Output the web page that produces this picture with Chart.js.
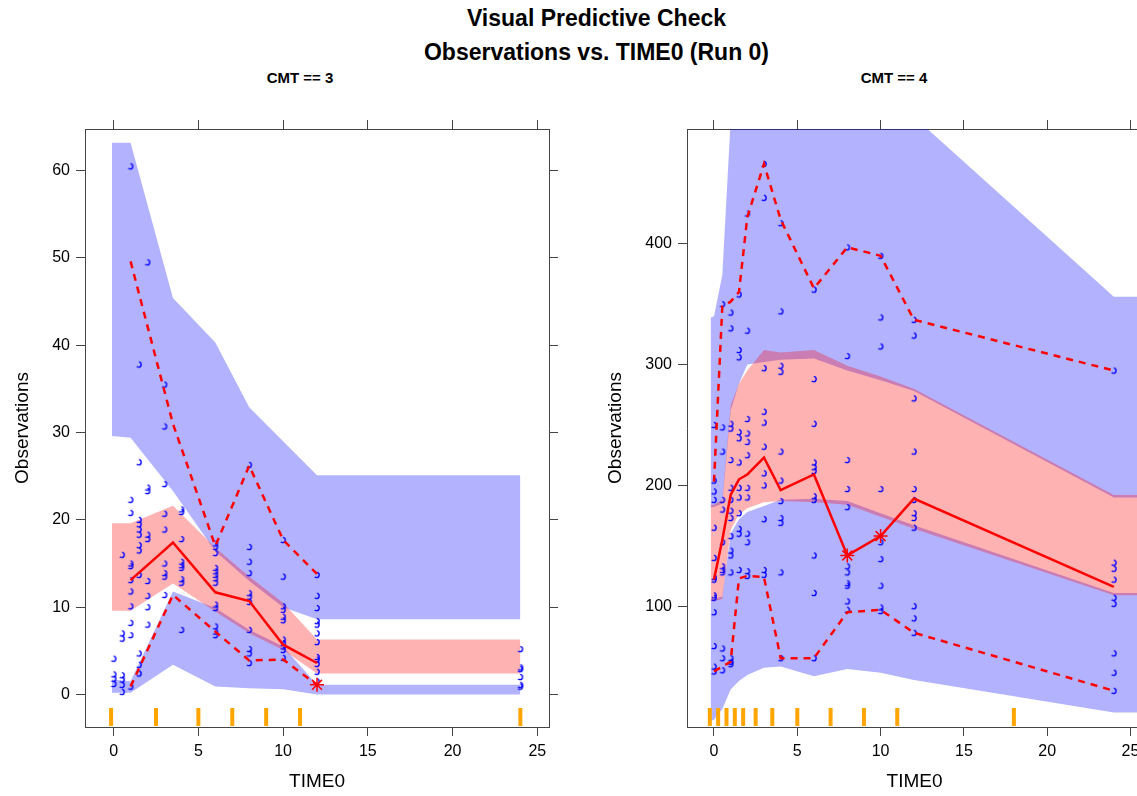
<!DOCTYPE html>
<html>
<head>
<meta charset="utf-8">
<script src="https://cdn.jsdelivr.net/npm/chart.js@4.4.1/dist/chart.umd.min.js"></script>
<style>
  html, body { margin: 0; padding: 0; background: #fff; width: 1137px; height: 796px; overflow: hidden; }
  body { position: relative; font-family: "Liberation Sans", Arial, Helvetica, sans-serif; color: #000; }
  .ttl { position: absolute; left: 0; width: 1193px; text-align: center; font-weight: bold; font-size: 23px; white-space: nowrap; }
  .strip { position: absolute; width: 200px; text-align: center; font-weight: bold; font-size: 15px; white-space: nowrap; }
  canvas { position: absolute; top: 100px; }
</style>
</head>
<body>
<div class="ttl" style="top:5px">Visual Predictive Check</div>
<div class="ttl" style="top:39px">Observations vs. TIME0 (Run 0)</div>
<div class="strip" style="left:200px; top:69px">CMT == 3</div>
<div class="strip" style="left:794px; top:69px">CMT == 4</div>
<canvas id="cmt3" width="600" height="696" style="left:0"></canvas>
<canvas id="cmt4" width="560" height="696" style="left:600px"></canvas>
<script>
// shared ticks
const xTicks = [0, 5, 10, 15, 20, 25];
const yTicks3 = [0, 10, 20, 30, 40, 50, 60];
const yTicks4 = [100, 200, 300, 400];

// ---- CMT == 3 ----
const binX3 = [-0.1, 1, 3.5, 6, 8, 10, 12, 24];
const pi95Hi3 = [63.2, 63.2, 45.4, 40.3, 32.9, 29.0, 25.1, 25.1];
const pi95Lo3 = [29.6, 29.4, 23.3, 16.4, 13.0, 10.0, 8.6, 8.6];
const pi50Hi3 = [19.6, 19.6, 21.6, 16.8, 13.5, 10.5, 6.3, 6.3];
const pi50Lo3 = [9.6, 9.6, 12.7, 9.5, 7.0, 5.1, 2.4, 2.4];
const pi05Hi3 = [1.7, 1.5, 11.8, 9.9, 7.4, 5.5, 1.1, 1.1];
const pi05Lo3 = [0.2, 0.2, 3.4, 0.9, 0.7, 0.6, 0.0, 0.0];

const obsX3 = [1, 3.5, 6, 8, 10, 12];
const obs95_3 = [49.6, 31.0, 17.0, 26.2, 17.7, 13.8];
const obs50_3 = [13.1, 17.4, 11.7, 10.7, 5.7, 3.6];
const obs05_3 = [0.9, 11.4, 7.2, 3.9, 4.0, 1.1];
const flagX3 = [12];
const flagY3 = [1.1];
const rug3 = [-0.15, 2.5, 5, 7, 9, 11, 24];

const time3 = [0, 0.5, 1, 1.5, 2, 3, 4, 6, 8, 10, 12, 24];
const conc3 = [
  [4.1, 2.3, 1.8, 1.2],
  [16.0, 7.0, 6.4, 2.2, 1.7, 1.1, 0.3],
  [60.5, 22.3, 20.8, 15.0, 14.7, 13.1, 11.8, 10.1, 8.2, 6.8, 0.9],
  [37.8, 26.6, 20.0, 19.5, 18.9, 18.3, 17.1, 16.5, 13.7, 4.7, 3.4, 2.4],
  [49.5, 23.7, 23.3, 18.3, 17.8, 13.0, 11.3, 10.0, 8.0],
  [35.5, 30.7, 24.1, 20.7, 18.9, 15.0, 13.9, 13.5, 11.4],
  [21.2, 20.9, 17.8, 15.2, 14.8, 14.5, 13.2, 12.8, 7.4],
  [17.3, 16.9, 16.2, 14.5, 14.1, 13.7, 13.3, 12.8, 10.3, 9.9, 7.8, 7.2, 6.8],
  [26.3, 16.9, 15.2, 13.9, 11.6, 11.2, 10.6, 7.4, 5.2, 4.7, 3.6],
  [17.7, 13.5, 10.1, 9.7, 8.9, 8.5, 6.3, 5.9, 5.5, 5.1, 4.2],
  [13.7, 11.3, 9.9, 8.4, 8.0, 7.0, 6.0, 4.3, 4.0, 3.5, 2.6, 1.5],
  [5.2, 3.1, 2.9, 2.0, 1.1, 0.9]
];

// ---- CMT == 4 ----
const binX4 = [-0.2, 0, 0.5, 1, 1.5, 2, 3, 4, 6, 8, 10, 12, 24, 26];
const pi95Hi4 = [339, 340, 374, 502, 560, 600, 620, 610, 590, 560, 535, 505, 356, 356];
const pi95Lo4 = [182, 182, 185, 262, 284, 300, 302, 304, 305, 295, 287, 278, 190, 190];
const pi50Hi4 = [184, 184, 188, 266, 284, 295, 312, 310, 312, 299, 290, 280, 192, 192];
const pi50Lo4 = [104, 104, 106, 163, 176, 181, 186, 187, 186, 184, 174, 164, 109, 109];
const pi05Hi4 = [106, 106, 108, 160, 172, 178, 183, 188, 189, 187, 177, 167, 111, 111];
const pi05Lo4 = [5, 6, 15, 31, 38, 43, 49, 50, 42, 48, 45, 39, 12, 12];

const obsX4 = [0, 0.5, 1, 1.5, 2, 3, 4, 6, 8, 10, 12, 24];
const obs95_4 = [203, 348, 352, 360, 422, 466, 420, 363, 397, 390, 337, 295];
const obs50_4 = [122, 155, 192, 205, 209, 223, 196, 209, 142, 158, 189, 116];
const obs05_4 = [46, 50, 54, 123, 125, 124, 57, 57, 95, 97, 78, 30];
const flagX4 = [8, 10];
const flagY4 = [142, 158];
const rug4 = [-0.25, 0.25, 0.75, 1.25, 1.75, 2.5, 3.5, 5, 7, 9, 11, 18];

const time4 = [0, 0.5, 1, 1.5, 2, 3, 4, 6, 8, 10, 12, 24];
const conc4 = [
  [250, 204, 195, 188, 165, 140, 124, 122, 109, 107, 95, 67, 50, 46],
  [350, 248, 228, 188, 180, 153, 133, 130, 128, 65, 57, 47],
  [343, 330, 251, 247, 221, 198, 188, 179, 173, 158, 146, 142, 128, 57, 54, 52],
  [358, 312, 306, 244, 239, 219, 198, 190, 177, 164, 160, 130],
  [425, 328, 255, 243, 236, 225, 198, 190, 160, 153, 129, 125],
  [466, 438, 297, 261, 252, 232, 210, 200, 172, 130, 126],
  [417, 344, 299, 294, 228, 204, 187, 173, 169, 128, 57],
  [362, 288, 251, 219, 215, 212, 191, 188, 142, 111, 57],
  [397, 307, 221, 197, 182, 133, 128, 119, 117, 104, 97],
  [390, 339, 315, 197, 153, 139, 117, 99, 96],
  [337, 324, 272, 228, 197, 188, 177, 173, 165, 100, 90, 78],
  [295, 136, 131, 122, 107, 102, 61, 45, 30]
];

Chart.defaults.font.family = '"Liberation Sans", Arial, Helvetica, sans-serif';
Chart.defaults.color = '#000';

const BLUE = 'rgba(0,0,255,0.3)';
const PINK = 'rgba(255,0,0,0.3)';
const NONE = 'rgba(0,0,0,0)';

// little open arc, as the observations are drawn in the original
function obsGlyph() {
  const c = document.createElement('canvas');
  c.width = 10; c.height = 10;
  const g = c.getContext('2d');
  g.strokeStyle = '#0000ff';
  g.lineWidth = 1.3;
  g.beginPath();
  g.arc(4.5, 5, 2.7, -1.45, 2.3);
  g.stroke();
  return c;
}
const glyph = obsGlyph();

function pts(xs, ys) { return xs.map((x, i) => ({ x, y: ys[i] })); }

function band(xs, hi, lo, color, order) {
  return [
    { data: pts(xs, hi), fill: '+1', backgroundColor: color, borderColor: NONE, borderWidth: 0, pointRadius: 0, order },
    { data: pts(xs, lo), fill: false, borderColor: NONE, borderWidth: 0, pointRadius: 0, order }
  ];
}

function redLine(xs, ys, dashed) {
  return { data: pts(xs, ys), borderColor: '#ff0000', borderWidth: 2.5, borderDash: dashed ? [7, 6] : [],
           pointRadius: 0, fill: false, order: dashed ? 3 : 2 };
}

const rugPlugin = {
  id: 'rug',
  afterDatasetsDraw(chart, args, opts) {
    const { ctx, chartArea } = chart;
    const x = chart.scales.x;
    ctx.save();
    ctx.strokeStyle = '#ffa500';
    ctx.lineWidth = 4;
    opts.values.forEach(v => {
      const px = x.getPixelForValue(v);
      ctx.beginPath();
      ctx.moveTo(px, chartArea.bottom - 19);
      ctx.lineTo(px, chartArea.bottom - 1);
      ctx.stroke();
    });
    ctx.restore();
  }
};

function axes(p) {
  const grid = { drawOnChartArea: false, drawTicks: true, tickLength: 9, color: '#444', lineWidth: 1 };
  const border = { display: true, color: '#444', width: 1 };
  const fix = vals => s => { s.ticks = vals.map(value => ({ value })); };
  return {
    x: {
      type: 'linear', position: 'bottom', min: p.xmin, max: p.xmax,
      afterBuildTicks: fix(xTicks), afterFit: s => { s.height = p.bottom; },
      grid, border,
      ticks: { font: { size: 16 }, padding: 6, maxRotation: 0, autoSkip: false },
      title: { display: true, text: 'TIME0', font: { size: 19 }, padding: { top: 0, bottom: 3 } }
    },
    x2: {
      type: 'linear', position: 'top', min: p.xmin, max: p.xmax,
      afterBuildTicks: fix(xTicks), afterFit: s => { s.height = p.top; },
      grid, border, ticks: { display: false }
    },
    y: {
      type: 'linear', position: 'left', min: p.ymin, max: p.ymax,
      afterBuildTicks: fix(p.yTicks), afterFit: s => { s.width = p.left; },
      grid, border,
      ticks: { font: { size: 16 }, padding: 6 },
      title: { display: true, text: 'Observations', font: { size: 19 }, padding: { top: p.titlePad, bottom: 0 } }
    },
    y2: {
      type: 'linear', position: 'right', min: p.ymin, max: p.ymax,
      afterBuildTicks: fix(p.yTicks), afterFit: s => { s.width = p.right; },
      grid, border, ticks: { display: false }
    }
  };
}

function panel(id, d) {
  const obs = d.time.flatMap((t, i) => d.conc[i].map(v => ({ x: t, y: v })));
  new Chart(document.getElementById(id), {
    type: 'line',
    data: {
      datasets: [
        ...band(d.binX, d.hi95, d.lo95, BLUE, 10),
        ...band(d.binX, d.hi05, d.lo05, BLUE, 10),
        ...band(d.binX, d.hi50, d.lo50, PINK, 8),
        { data: obs, showLine: false, pointStyle: glyph, pointRadius: 3, order: 6 },
        redLine(d.obsX, d.o95, true),
        redLine(d.obsX, d.o05, true),
        redLine(d.obsX, d.o50, false),
        { data: pts(d.flagX, d.flagY), showLine: false, pointStyle: 'star', pointRadius: 7,
          borderColor: '#ff0000', borderWidth: 1.5, order: 1 }
      ]
    },
    options: {
      responsive: false,
      animation: false,
      events: [],
      layout: { padding: 0 },
      plugins: { legend: { display: false }, tooltip: { enabled: false }, rug: { values: d.rug } },
      scales: axes(d.ax)
    },
    plugins: [rugPlugin]
  });
}

panel('cmt3', {
  binX: binX3, hi95: pi95Hi3, lo95: pi95Lo3, hi50: pi50Hi3, lo50: pi50Lo3, hi05: pi05Hi3, lo05: pi05Lo3,
  obsX: obsX3, o95: obs95_3, o50: obs50_3, o05: obs05_3, flagX: flagX3, flagY: flagY3,
  rug: rug3, time: time3, conc: conc3,
  ax: { xmin: -1.69, xmax: 25.69, ymin: -3.73, ymax: 64.77, yTicks: yTicks3,
        left: 85, right: 51, top: 29, bottom: 69, titlePad: 11 }
});

panel('cmt4', {
  binX: binX4, hi95: pi95Hi4, lo95: pi95Lo4, hi50: pi50Hi4, lo50: pi50Lo4, hi05: pi05Hi4, lo05: pi05Lo4,
  obsX: obsX4, o95: obs95_4, o50: obs50_4, o05: obs05_4, flagX: flagX4, flagY: flagY4,
  rug: rug4, time: time4, conc: conc4,
  ax: { xmin: -1.62, xmax: 25.69, ymin: 0, ymax: 494.9, yTicks: yTicks4,
        left: 87, right: 18, top: 29, bottom: 69, titlePad: 4 }
});
</script>
</body>
</html>
